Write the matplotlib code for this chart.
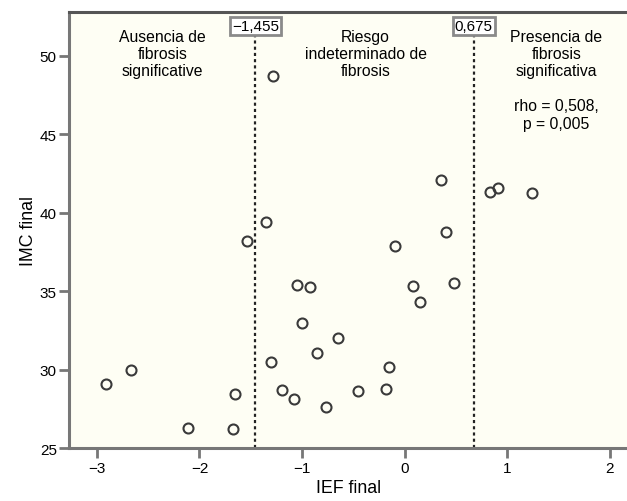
import numpy as np
import matplotlib
matplotlib.use('Agg')
import matplotlib.pyplot as plt

plt.rcParams['font.family'] = ['Liberation Sans', 'DejaVu Sans']

#IEF final vs IMC final
ief = [-2.91, -2.67, -2.11, -1.67, -1.65, -1.54, -1.35, -1.28, -1.30, -1.20,
       -1.08, -1.05, -0.92, -1.00, -0.85, -0.77, -0.65, -0.455, -0.18, -0.15,
       -0.09, 0.08, 0.15, 0.355, 0.40, 0.48, 0.83, 0.91, 1.24]
imc = [29.10, 29.99, 26.29, 26.25, 28.46, 38.23, 39.40, 48.71, 30.48, 28.72,
       28.14, 35.43, 35.26, 32.99, 31.07, 27.65, 32.01, 28.63, 28.78, 30.16,
       37.91, 35.36, 34.34, 42.10, 38.77, 35.52, 41.32, 41.57, 41.25]

cutoffs = [-1.455, 0.675]
cutoffLabels = ['\u22121,455', '0,675']

regionText = ['Ausencia de\nfibrosis\nsignificative',
              'Riesgo\nindeterminado de\nfibrosis',
              'Presencia de\nfibrosis\nsignificativa\n\nrho = 0,508,\np = 0,005']
regionX = [-2.36, -0.38, 1.48]

fig = plt.figure(figsize=(6.27, 5.02), dpi=100)
ax = fig.add_axes([0.1105, 0.105, 0.8895, 0.869])
ax.set_facecolor('#fefef4')

ax.plot(ief, imc, linestyle='none', marker='o', markersize=7.2, markerfacecolor='none',
        markeredgecolor='#3a3a3a', markeredgewidth=1.5)

for cut, lab in zip(cutoffs, cutoffLabels):
    ax.axvline(cut, ymin=0, ymax=0.95, color='#222222', linestyle=(0, (1.4, 1.4)), linewidth=1.6)
    ax.text(cut, 0.968, lab, transform=ax.get_xaxis_transform(), ha='center', va='center',
            fontsize=11, clip_on=False,
            bbox=dict(boxstyle='square,pad=0.12', facecolor='white', edgecolor='#8a8a8a', linewidth=2))

for x, txt in zip(regionX, regionText):
    ax.text(x, 0.962, txt, transform=ax.get_xaxis_transform(), ha='center', va='top',
            fontsize=11.3, linespacing=1.2)

ax.set_xlim(-3.27, 2.17)
ax.set_ylim(25, 52.8)
ax.set_xticks([-3, -2, -1, 0, 1, 2])
ax.set_xticklabels(['\u22123', '\u22122', '\u22121', '0', '1', '2'])
ax.set_yticks([25, 30, 35, 40, 45, 50])

for side in ['left', 'bottom']:
    ax.spines[side].set_color('#777777')
    ax.spines[side].set_linewidth(2.2)
ax.spines['top'].set_color('#555555')
ax.spines['top'].set_linewidth(2.2)
ax.spines['right'].set_visible(False)
ax.tick_params(axis='both', length=7, width=2, color='#777777', labelsize=11, pad=2)

ax.set_xlabel('IEF final', fontsize=12.8, labelpad=3)
ax.set_ylabel('IMC final', fontsize=12.8, labelpad=2)

fig.savefig('out.png', dpi=100)
